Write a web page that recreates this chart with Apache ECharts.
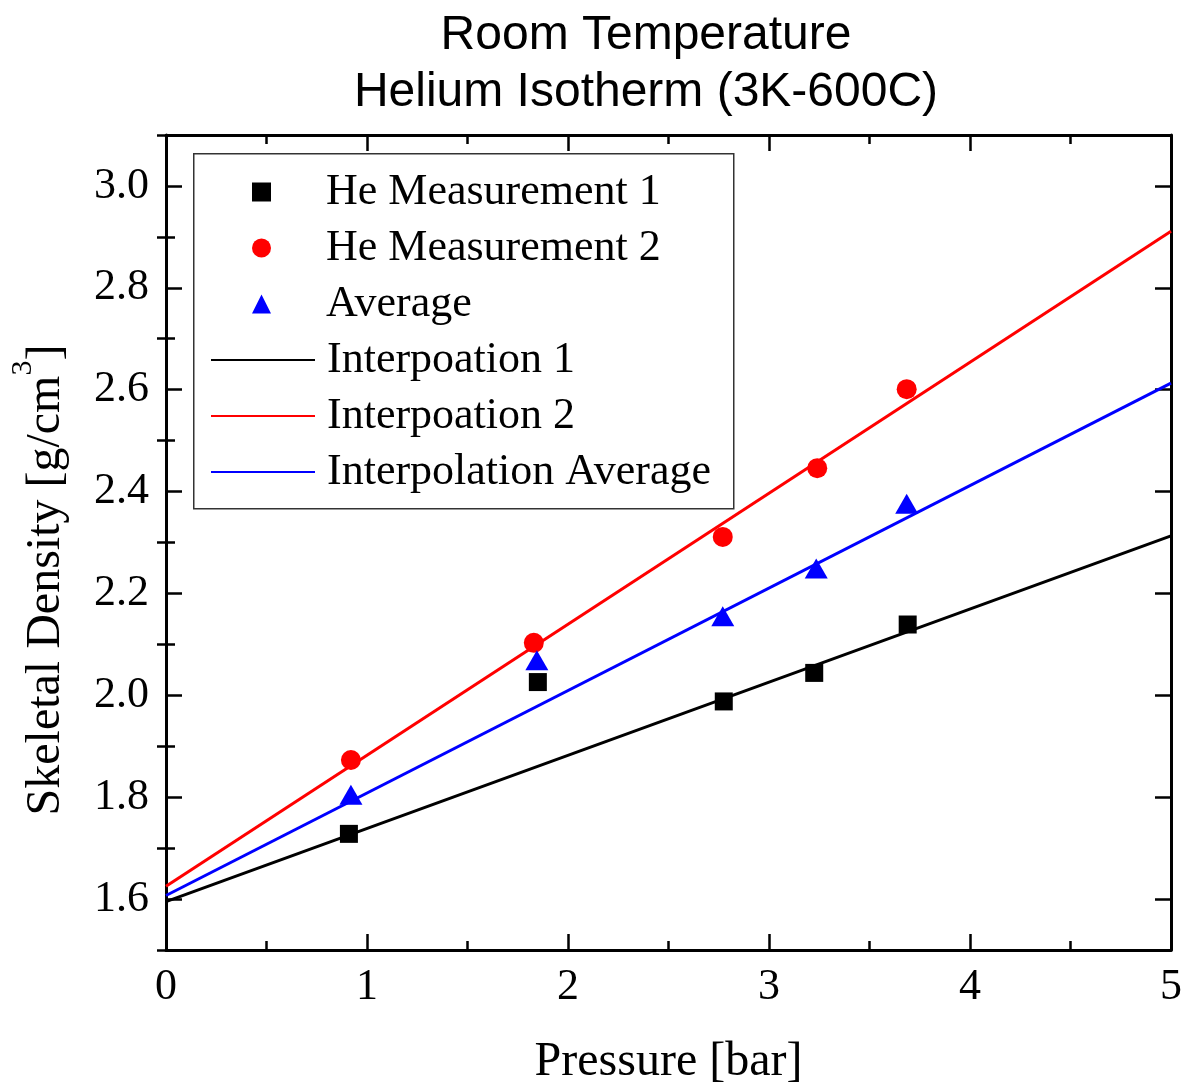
<!DOCTYPE html>
<html>
<head>
<meta charset="utf-8">
<script src="https://cdn.jsdelivr.net/npm/echarts@6/dist/echarts.min.js"></script>
<style>
  html, body { margin: 0; padding: 0; background: #fff; }
  #chart { width: 1184px; height: 1088px; }
</style>
</head>
<body>
<div id="chart"></div>
<script>
// measured points
const pressure1 = [0.91, 1.85, 2.775, 3.225, 3.69];
const density1 = [1.728, 2.026, 1.988, 2.044, 2.139];
const pressure2 = [0.92, 1.83, 2.77, 3.24, 3.685];
const density2 = [1.873, 2.103, 2.311, 2.446, 2.601];
const pressureAvg = [0.92, 1.845, 2.77, 3.235, 3.685];
const densityAvg = [1.805, 2.069, 2.155, 2.249, 2.376];

// fitted lines (ends at 0 and 5 bar)
const fitPressure = [0, 5];
const fit1 = [1.595, 2.313];
const fit2 = [1.625, 2.911];
const fitAvg = [1.607, 2.613];

// axis ticks
const yMajor = [1.6, 1.8, 2.0, 2.2, 2.4, 2.6, 2.8, 3.0];
const yMinor = [1.5, 1.7, 1.9, 2.1, 2.3, 2.5, 2.7, 2.9, 3.1];

const pointNames = ['He Measurement 1', 'He Measurement 2', 'Average'];
const lineNames = ['Interpoation 1', 'Interpoation 2', 'Interpolation Average'];

const serif = 'Liberation Serif';
const pairs = (xs, ys) => xs.map((x, i) => [x, ys[i]]);

const chart = echarts.init(document.getElementById('chart'));

const xBase = {
  type: 'value', min: 0, max: 5, interval: 1,
  gridIndex: 0,
  splitLine: { show: false },
  axisLine: { show: true, onZero: false, lineStyle: { color: '#000', width: 3 } },
  axisTick: { show: true, inside: true, length: 16, lineStyle: { color: '#000', width: 2.5 } },
  minorTick: { show: true, splitNumber: 2, length: 9, lineStyle: { color: '#000', width: 2.5 } },
  minorSplitLine: { show: false }
};

const yBase = {
  type: 'value', min: 1.5, max: 3.1,
  gridIndex: 0,
  splitLine: { show: false },
  axisLine: { show: true, onZero: false, lineStyle: { color: '#000', width: 3 } }
};

const legendText = { fontFamily: serif, fontSize: 44, color: '#000', lineHeight: 46 };

const option = {
  backgroundColor: '#fff',
  animation: false,
  title: {
    text: 'Room Temperature\nHelium Isotherm (3K-600C)',
    left: 641,
    top: 2,
    textAlign: 'center',
    textStyle: { fontFamily: 'Liberation Sans', fontSize: 48, fontWeight: 'normal', color: '#000', lineHeight: 57 }
  },
  grid: { left: 166, right: 13, top: 135, bottom: 138, containLabel: false, outerBoundsMode: 'none' },
  // legend frame
  graphic: [{
    type: 'rect', left: 193, top: 153, z: 100,
    shape: { width: 540, height: 355 },
    style: { fill: '#fff', stroke: '#333', lineWidth: 1.5 }
  }],
  legend: [
    {
      left: 252, top: 169, z: 110,
      orient: 'vertical',
      selectedMode: false,
      padding: 0,
      itemWidth: 19, itemHeight: 19, itemGap: 10,
      textStyle: Object.assign({ padding: [0, 0, 0, 50] }, legendText),
      data: pointNames
    },
    {
      left: 210, top: 337, z: 110,
      orient: 'vertical',
      selectedMode: false,
      padding: 0,
      itemWidth: 104, itemHeight: 19, itemGap: 10,
      itemStyle: { opacity: 0 },
      textStyle: Object.assign({ padding: [0, 0, 0, 7] }, legendText),
      data: lineNames
    }
  ],
  xAxis: [
    Object.assign({}, xBase, {
      position: 'bottom',
      name: 'Pressure [bar]',
      nameLocation: 'middle',
      nameGap: 88,
      nameTextStyle: { fontFamily: serif, fontSize: 48, color: '#000' },
      axisLabel: { show: true, margin: 15, fontFamily: serif, fontSize: 44, color: '#000' }
    }),
    Object.assign({}, xBase, { position: 'top', axisLabel: { show: false } })
  ],
  yAxis: [
    Object.assign({}, yBase, {
      position: 'left',
      name: '{a|Skeletal Density [g/cm}{s|3}{a|]}',
      nameLocation: 'middle',
      nameRotate: 90,
      nameGap: 96,
      nameTextStyle: {
        padding: [0, 75, 0, 0],
        rich: {
          a: { fontFamily: serif, fontSize: 48, color: '#000', lineHeight: 62, verticalAlign: 'bottom' },
          s: { fontFamily: serif, fontSize: 30, color: '#000', lineHeight: 62, verticalAlign: 'top' }
        }
      },
      axisTick: { show: true, inside: true, length: 16, customValues: yMajor, lineStyle: { color: '#000', width: 2.5 } },
      axisLabel: { show: true, margin: 17, customValues: yMajor, fontFamily: serif, fontSize: 44, color: '#000',
        formatter: v => v.toFixed(1) }
    }),
    Object.assign({}, yBase, {
      position: 'left',
      axisLine: { show: false },
      axisTick: { show: true, inside: true, length: 9, customValues: yMinor, lineStyle: { color: '#000', width: 2.5 } },
      axisLabel: { show: false }
    }),
    Object.assign({}, yBase, {
      position: 'right',
      axisTick: { show: true, inside: true, length: 16, customValues: yMajor, lineStyle: { color: '#000', width: 2.5 } },
      axisLabel: { show: false }
    }),
    Object.assign({}, yBase, {
      position: 'right',
      axisLine: { show: false },
      axisTick: { show: true, inside: true, length: 9, customValues: yMinor, lineStyle: { color: '#000', width: 2.5 } },
      axisLabel: { show: false }
    })
  ],
  series: [
    {
      name: lineNames[0], type: 'line', data: pairs(fitPressure, fit1),
      symbol: 'none', lineStyle: { color: '#000', width: 3 }, itemStyle: { color: '#000' }, z: 2
    },
    {
      name: lineNames[1], type: 'line', data: pairs(fitPressure, fit2),
      symbol: 'none', lineStyle: { color: '#ff0000', width: 3 }, itemStyle: { color: '#ff0000' }, z: 2
    },
    {
      name: lineNames[2], type: 'line', data: pairs(fitPressure, fitAvg),
      symbol: 'none', lineStyle: { color: '#0000ff', width: 3 }, itemStyle: { color: '#0000ff' }, z: 2
    },
    {
      name: pointNames[0], type: 'scatter', data: pairs(pressure1, density1),
      symbol: 'rect', symbolSize: 18, itemStyle: { color: '#000', opacity: 1 }, z: 5
    },
    {
      name: pointNames[1], type: 'scatter', data: pairs(pressure2, density2),
      symbol: 'circle', symbolSize: 20, itemStyle: { color: '#ff0000', opacity: 1 }, z: 5
    },
    {
      name: pointNames[2], type: 'scatter', data: pairs(pressureAvg, densityAvg),
      symbol: 'triangle', symbolSize: [23, 20], itemStyle: { color: '#0000ff', opacity: 1 }, z: 5
    }
  ]
};

chart.setOption(option);
</script>
</body>
</html>
